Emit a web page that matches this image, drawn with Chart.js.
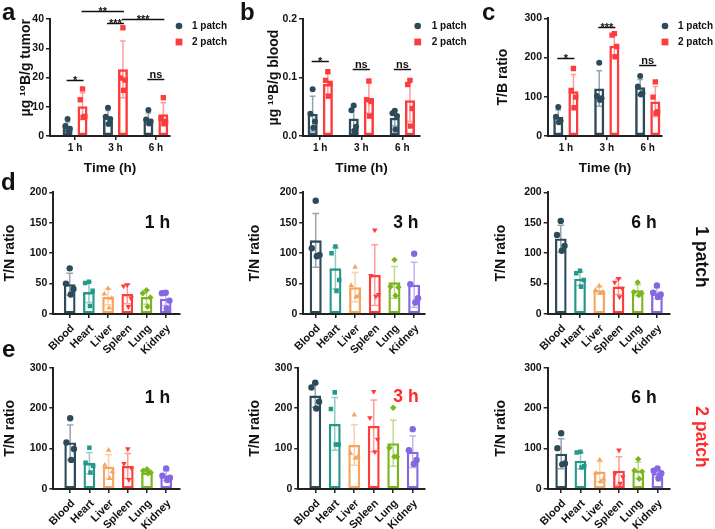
<!DOCTYPE html>
<html>
<head>
<meta charset="utf-8">
<script src="https://cdn.jsdelivr.net/npm/chart.js@4.4.1/dist/chart.umd.min.js"></script>
<style>
  body { margin: 0; width: 715px; height: 529px; background: #fff; position: relative; overflow: hidden; }
  canvas { position: absolute; }
  .lbl { position: absolute; line-height: 1; white-space: nowrap; font-weight: bold;
         font-family: "Liberation Sans", Arial, sans-serif; color: #111; }
</style>
</head>
<body>
<script>
// ---------- data ----------
const times = ['1 h', '3 h', '6 h'];
const organs = ['Blood', 'Heart', 'Liver', 'Spleen', 'Lung', 'Kidney'];
const groups = ['1 patch', '2 patch'];

// a: µg 10B / g tumor
const tumorMean1 = [3.3, 6.4, 5.9];
const tumorSd1 = [1.5, 2.3, 2.0];
const tumorPts1 = [[5.8, 3.4, 2.5, 1.8], [9.7, 6.6, 5.8, 4.1], [8.9, 5.6, 5.0, 4.3]];
const tumorMean2 = [10.2, 22.8, 7.4];
const tumorSd2 = [4.6, 9.7, 4.0];
const tumorPts2 = [[16.1, 12.4, 6.7, 6.4], [37.0, 19.8, 19.1, 15.6], [13.1, 6.0, 5.0, 4.3]];

// b: µg 10B / g blood
const bloodMean1 = [0.038, 0.030, 0.031];
const bloodSd1 = [0.030, 0.020, 0.014];
const bloodPts1 = [[0.080, 0.038, 0.025, 0.014], [0.052, 0.044, 0.016, 0.009], [0.043, 0.039, 0.034, 0.011]];
const bloodMean2 = [0.089, 0.065, 0.061];
const bloodSd2 = [0.018, 0.026, 0.036];
const bloodPts2 = [[0.110, 0.095, 0.090, 0.068], [0.094, 0.062, 0.059, 0.034], [0.095, 0.088, 0.047, 0.017]];

// c: T/B ratio
const tbMean1 = [49, 121, 124];
const tbSd1 = [17, 45, 20];
const tbPts1 = [[74, 49, 39, 35], [187, 102, 96, 92], [153, 126, 109, 106]];
const tbMean2 = [114, 230, 88];
const tbSd2 = [43, 27, 38];
const tbPts2 = [[172, 116, 99, 72], [261, 257, 228, 202], [138, 99, 62, 58]];

// significance brackets: [dataset, time] to [dataset, time], height in axis units
const tumorSig = [
  {from: [0, 0], to: [1, 0], level: 19.1, text: '*'},
  {from: [1, 0], to: [1, 1], level: 42.7, text: '**'},
  {from: [0, 1], to: [1, 1], level: 38.7, text: '***'},
  {from: [1, 1], to: [1, 2], level: 39.9, text: '***'},
  {from: [0, 2], to: [1, 2], level: 19.6, text: 'ns'}
];
const bloodSig = [
  {from: [0, 0], to: [1, 0], level: 0.128, text: '*'},
  {from: [0, 1], to: [1, 1], level: 0.114, text: 'ns'},
  {from: [0, 2], to: [1, 2], level: 0.114, text: 'ns'}
];
const tbSig = [
  {from: [0, 0], to: [1, 0], level: 200, text: '*'},
  {from: [0, 1], to: [1, 1], level: 279, text: '***'},
  {from: [0, 2], to: [1, 2], level: 180, text: 'ns'}
];

// d: T/N ratio, 1 patch
const tn1p1hMean = [49, 36, 28, 33, 28, 25];
const tn1p1hSd = [18, 17, 13, 16, 12, 11];
const tn1p1hPts = [[75, 50, 41, 32], [53, 51, 38, 13], [42, 33, 26, 10], [48, 46, 26, 12], [39, 34, 27, 12], [35, 34, 22, 9]];
const tn1p3hMean = [121, 75, 44, 64, 52, 48];
const tn1p3hSd = [44, 34, 24, 50, 26, 37];
const tn1p3hPts = [[186, 108, 97, 95], [111, 100, 56, 38], [77, 47, 30, 28], [138, 63, 32, 29], [89, 45, 44, 30], [99, 49, 26, 19]];
const tn1p6hMean = [124, 58, 39, 45, 39, 34];
const tn1p6hSd = [22, 11, 6, 13, 9, 9];
const tn1p6hPts = [[153, 130, 112, 104], [71, 67, 56, 45], [46, 39, 36, 34], [58, 52, 42, 28], [52, 36, 34, 31], [47, 35, 32, 28]];

// e: T/N ratio, 2 patch
const tn2p1hMean = [115, 64, 55, 57, 41, 33];
const tn2p1hSd = [43, 26, 30, 31, 5, 12];
const tn2p1hPts = [[175, 115, 99, 72], [102, 65, 57, 41], [96, 59, 43, 26], [99, 63, 51, 23], [49, 45, 41, 39], [51, 33, 28, 22]];
const tn2p3hMean = [231, 161, 109, 156, 113, 92];
const tn2p3hSd = [29, 65, 50, 64, 57, 39];
const tn2p3hPts = [[263, 251, 216, 199], [239, 198, 110, 110], [183, 88, 80, 76], [241, 176, 123, 92], [201, 102, 80, 80], [148, 96, 72, 62]];
const tn2p6hMean = [87, 70, 43, 45, 46, 39];
const tn2p6hSd = [37, 20, 25, 35, 20, 10];
const tn2p6hPts = [[138, 101, 63, 61], [92, 90, 57, 53], [72, 39, 25, 18], [96, 39, 30, 14], [74, 46, 43, 25], [51, 45, 39, 26]];

// ---------- styling ----------
const FONT = '"Liberation Sans", "DejaVu Sans", Arial, sans-serif';
const INK = '#111';
const AXIS = '#222';
const RED = '#ff2a2a';
const C1 = '#2d4a5b';
const C2 = '#ff3c3c';
const organColors = ['#2d4a5b', '#23998b', '#f6a45e', '#ff3c3c', '#7bb51e', '#8567e2'];
const organShapes = ['circle', 'rect', 'triangle', 'triangle', 'rectRot', 'circle'];
const organTurn = [0, 0, 0, 180, 0, 0];
const JIT = [0, -0.7, 0.7, 0.2];
const CAT = 0.74, BARP = 0.667;

function fade(hex, a) {
  const n = parseInt(hex.slice(1), 16);
  return 'rgba(' + (n >> 16) + ',' + ((n >> 8) & 255) + ',' + (n & 255) + ',' + a + ')';
}

function fnt(size) { return {family: FONT, size: size, weight: 'bold'}; }

function mkCanvas(box) {
  const c = document.createElement('canvas');
  c.width = box[2]; c.height = box[3];
  c.style.left = box[0] + 'px'; c.style.top = box[1] + 'px';
  document.body.appendChild(c);
  return c;
}

function xScale(labels, range, title, h, rot) {
  return {
    type: 'linear', min: range[0], max: range[1], offset: false,
    afterBuildTicks: s => { s.ticks = labels.map((_, i) => ({value: i})); },
    afterFit: s => { s.height = h; },
    ticks: {autoSkip: false, maxRotation: rot, minRotation: rot, padding: rot ? 4 : 2, labelOffset: rot ? 3 : 0,
            color: INK, font: fnt(rot ? 11 : 10), callback: (v, i) => labels[i]},
    grid: {offset: false, drawOnChartArea: false, tickLength: 4, color: AXIS, lineWidth: 1.5},
    border: {color: AXIS, width: 2},
    title: {display: !!title, text: title, color: INK, padding: 0, font: fnt(13.5)}
  };
}

function yScale(max, step, dec, title, w, align) {
  return {
    min: 0, max: max,
    afterFit: s => { s.width = w; },
    ticks: {stepSize: step, padding: 2, color: INK, font: fnt(10.5), callback: v => v.toFixed(dec)},
    grid: {drawOnChartArea: false, tickLength: 4, color: AXIS, lineWidth: 1.5},
    border: {color: AXIS, width: 2},
    title: {display: true, text: title, align: align || 'center', color: INK, padding: 0, font: fnt(14)}
  };
}

function bars(means, sds, color, bw, cat, barp) {
  return {
    type: 'bar', order: 2,
    data: means.map((m, i) => ({x: i, y: m})),
    sd: sds,
    errorColor: Array.isArray(color) ? color.map(c => fade(c, 0.5)) : fade(color, 0.5),
    borderColor: color, backgroundColor: 'rgba(255,255,255,0)', borderWidth: bw, borderSkipped: false,
    categoryPercentage: cat, barPercentage: barp
  };
}

function groupPoints(pts, k, color, shape, label) {
  const shift = (k - 0.5) * CAT / 2;
  return {
    type: 'scatter', label: label, order: 1,
    data: pts.flatMap((g, i) => g.map((v, j) => ({x: i + shift + JIT[j] * 0.08, y: v}))),
    pointStyle: shape, pointRadius: shape === 'rect' ? 3.8 : 3,
    pointBackgroundColor: color, pointBorderColor: color, pointBorderWidth: 0
  };
}

// mean +/- SD whiskers, drawn right after each bar dataset
const errorBars = {
  id: 'errorBars',
  afterDatasetDraw(chart, args) {
    const ds = chart.data.datasets[args.index];
    if (!ds.sd) return;
    const y = chart.scales.y, ctx = chart.ctx;
    args.meta.data.forEach((bar, i) => {
      const m = ds.data[i].y, s = ds.sd[i];
      const top = y.getPixelForValue(m + s), bot = y.getPixelForValue(Math.max(m - s, 0));
      const half = bar.width * 0.28;
      ctx.save();
      ctx.strokeStyle = Array.isArray(ds.errorColor) ? ds.errorColor[i] : ds.errorColor;
      ctx.lineWidth = 1.5;
      ctx.beginPath();
      ctx.moveTo(bar.x, top); ctx.lineTo(bar.x, bot);
      ctx.moveTo(bar.x - half, top); ctx.lineTo(bar.x + half, top);
      ctx.moveTo(bar.x - half, bot); ctx.lineTo(bar.x + half, bot);
      ctx.stroke();
      ctx.restore();
    });
  }
};

function sigPlugin(items) {
  return {
    id: 'sig',
    afterDraw(chart) {
      const ctx = chart.ctx, y = chart.scales.y;
      ctx.save();
      ctx.strokeStyle = INK; ctx.fillStyle = INK; ctx.lineWidth = 1.5;
      ctx.font = 'bold 11px ' + FONT; ctx.textAlign = 'center';
      items.forEach(it => {
        const x1 = chart.getDatasetMeta(it.from[0]).data[it.from[1]].x;
        const x2 = chart.getDatasetMeta(it.to[0]).data[it.to[1]].x;
        const py = Math.round(y.getPixelForValue(it.level)) + 0.5;
        ctx.beginPath(); ctx.moveTo(x1 - 1, py); ctx.lineTo(x2 + 1, py); ctx.stroke();
        ctx.fillText(it.text, (x1 + x2) / 2, it.text === 'ns' ? py - 2 : py + 3);
      });
      ctx.restore();
    }
  };
}

function legendPlugin(leg) {
  return {
    id: 'ptLegend',
    afterDraw(chart) {
      const ctx = chart.ctx;
      leg.ds.forEach((di, n) => {
        const ds = chart.data.datasets[di];
        const y = leg.y[n];
        ctx.save();
        ctx.fillStyle = ds.pointBackgroundColor;
        Chart.helpers.drawPoint(ctx, {pointStyle: ds.pointStyle, radius: ds.pointStyle === 'rect' ? 4.8 : 3.3,
                                      rotation: 0, borderWidth: 0}, leg.x, y);
        ctx.fillStyle = INK; ctx.font = 'bold 10px ' + FONT; ctx.textBaseline = 'middle';
        ctx.fillText(ds.label, leg.tx, y + 0.5);
        ctx.restore();
      });
    }
  };
}

function groupPanel(o) {
  const [cx, cy, cw, ch] = o.box;
  const [l, t, r, b] = o.area;
  const padL = o.titleX - cx - 8.4;
  new Chart(mkCanvas(o.box), {
    type: 'bar',
    data: {datasets: [
      bars(o.m1, o.s1, C1, 2.5, CAT, BARP),
      bars(o.m2, o.s2, C2, 2.5, CAT, BARP),
      groupPoints(o.p1, 0, C1, 'circle', groups[0]),
      groupPoints(o.p2, 1, C2, 'rect', groups[1])
    ]},
    options: {
      responsive: false, animation: false, events: [],
      layout: {padding: {left: padL, top: t - cy, right: cx + cw - r, bottom: 4}},
      plugins: {legend: {display: false}, tooltip: {enabled: false}},
      scales: {
        x: xScale(times, o.xr, 'Time (h)', cy + ch - 4 - b, 0),
        y: yScale(o.ymax, o.step, o.dec, o.title, l - cx - padL, o.titleAlign)
      }
    },
    plugins: [errorBars, sigPlugin(o.sig),
              legendPlugin({ds: [2, 3], x: o.leg[0] - cx, tx: o.leg[1] - cx, y: [26 - cy, 42 - cy]})]
  });
}

function organPanel(o) {
  const [cx, cy, cw, ch] = o.box;
  const [l, t, r, b] = o.area;
  const padL = o.titleX - cx - 8.4;
  const pick = arr => c => (c.raw ? arr[c.raw.c] : arr[0]);
  new Chart(mkCanvas(o.box), {
    type: 'bar',
    data: {datasets: [
      bars(o.mean, o.sd, organColors, 2.3, 1, 0.61),
      {type: 'scatter', order: 1,
       data: o.pts.flatMap((g, i) => g.map((v, j) => ({x: i + JIT[j] * 0.28, y: v, c: i}))),
       pointStyle: pick(organShapes), pointRotation: pick(organTurn), pointRadius: 3.2, pointBorderWidth: 0,
       pointBackgroundColor: pick(organColors), pointBorderColor: pick(organColors)}
    ]},
    options: {
      responsive: false, animation: false, events: [],
      layout: {padding: {left: padL, top: t - cy, right: cx + cw - r, bottom: 0}},
      plugins: {legend: {display: false}, tooltip: {enabled: false}},
      scales: {
        x: xScale(organs, o.xr, '', cy + ch - b, 45),
        y: yScale(o.ymax, o.step, 0, 'T/N ratio', l - cx - padL)
      }
    },
    plugins: [errorBars]
  });
}

// ---------- top row ----------
groupPanel({box: [0, 0, 235, 180], area: [50, 19, 170, 136], titleX: 26, xr: [-0.62, 2.35],
            ymax: 40, step: 10, dec: 0, title: 'µg ¹⁰B/g tumor', titleAlign: 'end',
            m1: tumorMean1, s1: tumorSd1, p1: tumorPts1, m2: tumorMean2, s2: tumorSd2, p2: tumorPts2,
            sig: tumorSig, leg: [179, 192]});
groupPanel({box: [235, 0, 235, 180], area: [303, 19, 420, 136], titleX: 274, xr: [-0.42, 2.43],
            ymax: 0.2, step: 0.1, dec: 1, title: 'µg ¹⁰B/g blood',
            m1: bloodMean1, s1: bloodSd1, p1: bloodPts1, m2: bloodMean2, s2: bloodSd2, p2: bloodPts2,
            sig: bloodSig, leg: [417.7, 431.7]});
groupPanel({box: [470, 0, 245, 180], area: [548, 18.3, 662, 136], titleX: 503, xr: [-0.436, 2.348],
            ymax: 300, step: 100, dec: 0, title: 'T/B ratio',
            m1: tbMean1, s1: tbSd1, p1: tbPts1, m2: tbMean2, s2: tbSd2, p2: tbPts2,
            sig: tbSig, leg: [665, 678]});

// ---------- row d (1 patch) ----------
organPanel({box: [0, 180, 235, 175], area: [53.3, 192.3, 180, 314], titleX: 10, xr: [-0.854, 5.745],
            ymax: 200, step: 50, mean: tn1p1hMean, sd: tn1p1hSd, pts: tn1p1hPts});
organPanel({box: [235, 180, 235, 175], area: [303.3, 192.3, 425, 314], titleX: 255, xr: [-0.63, 5.55],
            ymax: 200, step: 50, mean: tn1p3hMean, sd: tn1p3hSd, pts: tn1p3hPts});
organPanel({box: [470, 180, 245, 175], area: [547.7, 192.3, 670, 314], titleX: 501.5, xr: [-0.68, 5.68],
            ymax: 200, step: 50, mean: tn1p6hMean, sd: tn1p6hSd, pts: tn1p6hPts});

// ---------- row e (2 patch) ----------
organPanel({box: [0, 355, 235, 174], area: [53.3, 367.7, 180, 489], titleX: 10, xr: [-0.88, 5.72],
            ymax: 300, step: 100, mean: tn2p1hMean, sd: tn2p1hSd, pts: tn2p1hPts});
organPanel({box: [235, 355, 235, 174], area: [298.3, 367.7, 425, 489], titleX: 255, xr: [-0.87, 5.63],
            ymax: 300, step: 100, mean: tn2p3hMean, sd: tn2p3hSd, pts: tn2p3hPts});
organPanel({box: [470, 355, 245, 174], area: [547.7, 367.7, 670, 489], titleX: 501.5, xr: [-0.7, 5.65],
            ymax: 300, step: 100, mean: tn2p6hMean, sd: tn2p6hSd, pts: tn2p6hPts});

// ---------- panel letters and annotations ----------
function addText(text, x, base, size, color, center, rotate) {
  const d = document.createElement('div');
  d.className = 'lbl';
  d.textContent = text;
  d.style.fontSize = size + 'px';
  d.style.color = color || INK;
  if (rotate) {
    d.style.left = x + 'px'; d.style.top = base + 'px';
    d.style.transform = 'translate(-50%, -50%) rotate(90deg)';
  } else {
    d.style.left = x + 'px'; d.style.top = (base - 0.8465 * size) + 'px';
    if (center) d.style.transform = 'translateX(-50%)';
  }
  document.body.appendChild(d);
}
addText('a', 2, 20, 24);
addText('b', 240, 20, 24);
addText('c', 482, 20, 24);
addText('d', 1, 190, 24);
addText('e', 2, 357, 24);
addText('1 h', 157.5, 229.3, 17.5, INK, true);
addText('3 h', 405.8, 229.3, 17.5, INK, true);
addText('6 h', 644, 229.3, 17.5, INK, true);
addText('1 h', 157.5, 404.3, 17.5, INK, true);
addText('3 h', 406, 403.3, 17.5, RED, true);
addText('6 h', 644, 404.3, 17.5, INK, true);
addText('1 patch', 701, 257, 17.5, INK, false, true);
addText('2 patch', 701, 437, 17.5, RED, false, true);
</script>
</body>
</html>
